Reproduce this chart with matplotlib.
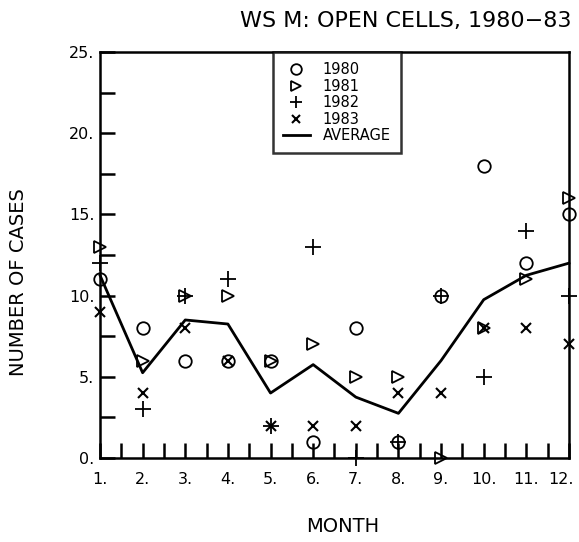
import numpy as np
import matplotlib.pyplot as plt
import matplotlib.transforms as mtransforms

months = np.arange(1, 13)
month_labels = ['1.', '2.', '3.', '4.', '5.', '6.', '7.', '8.', '9.', '10.', '11.', '12.']
y1980 = [11, 8, 6, 6, 6, 1, 8, 1, 10, 18, 12, 15]
y1981 = [13, 6, 10, 10, 6, 7, 5, 5, 0, 8, 11, 16]
y1982 = [12, 3, 10, 11, 2, 13, 0, 1, 10, 5, 14, 10]
y1983 = [9, 4, 8, 6, 2, 2, 2, 4, 4, 8, 8, 7]
average = [11.25, 5.25, 8.5, 8.25, 4.0, 5.75, 3.75, 2.75, 6.0, 9.75, 11.25, 12.0]

plt.rcParams['font.family'] = 'DejaVu Sans'
fig = plt.figure(figsize=(5.79, 5.42), dpi=100)
ax = fig.add_axes([0.1727, 0.155, 0.81, 0.749])

ax.plot(months, y1980, 'o', mfc='none', mec='black', ms=9, mew=1.3, clip_on=False, label='1980')
ax.plot(months, y1981, '>', mfc='none', mec='black', ms=9, mew=1.3, clip_on=False, label='1981')
ax.plot(months, y1982, '+', color='black', ms=11, mew=1.3, clip_on=False, label='1982')
ax.plot(months, y1983, 'x', color='black', ms=7, mew=1.5, clip_on=False, label='1983')
ax.plot(months, average, '-', color='black', lw=2, clip_on=False, label='AVERAGE')

ax.set_xlim(1, 12)
ax.set_ylim(0, 25)
ax.set_xticks(months)
ax.set_xticklabels(month_labels)
ax.set_xticks(np.arange(1.5, 12, 1), minor=True)
ax.set_yticks([0, 5, 10, 15, 20, 25])
ax.set_yticklabels(['0.', '5.', '10.', '15.', '20.', '25.'])
ax.set_yticks(np.arange(2.5, 25, 5), minor=True)
ax.tick_params(which='both', direction='in', length=11, width=1.8, labelsize=11.5)
ax.tick_params(axis='x', which='both', pad=10, top=False)
ax.tick_params(axis='y', which='both', pad=4, right=False)
for s in ax.spines.values():
    s.set_linewidth(1.8)

# nudge the last month label so it stays inside the figure
last = ax.get_xticklabels()[-1]
last.set_transform(last.get_transform() + mtransforms.ScaledTranslation(-8 / 100, 0, fig.dpi_scale_trans))

leg = ax.legend(loc='upper left', bbox_to_anchor=(0.369, 1.0), fontsize=10.5, frameon=True,
                fancybox=False, edgecolor='black', handlelength=1.8, labelspacing=0.1,
                borderpad=0.7, handletextpad=0.9, borderaxespad=0, markerscale=0.85)
leg.get_frame().set_linewidth(1.8)

fig.text(0.7, 0.962, 'WS M: OPEN CELLS, 1980\u221283', ha='center', va='center', fontsize=16)
fig.text(0.032, 0.48, 'NUMBER OF CASES', rotation=90, ha='center', va='center', fontsize=14)
fig.text(0.592, 0.028, 'MONTH', ha='center', va='center', fontsize=14)

fig.savefig('out.png', dpi=100)
